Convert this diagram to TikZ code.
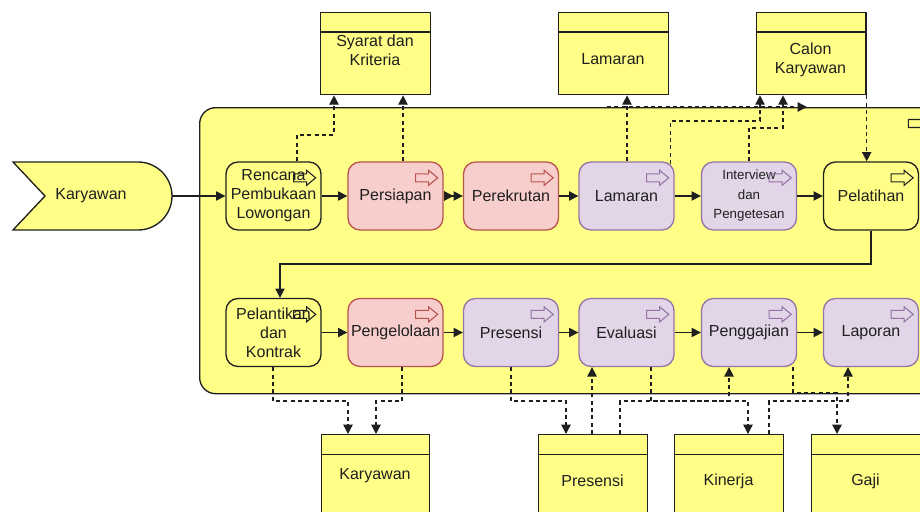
\documentclass[tikz,border=0pt]{standalone}
\usepackage{fontspec}
\setmainfont{Liberation Sans}
\usetikzlibrary{arrows.meta}

\definecolor{ylw}{HTML}{FFFF88}
\definecolor{redF}{HTML}{F8CECC}
\definecolor{redD}{HTML}{B85450}
\definecolor{purF}{HTML}{E1D5E7}
\definecolor{purD}{HTML}{9673A6}
\definecolor{ink}{HTML}{1F1F1F}

% small block-arrow marker in the top right corner of an activity
\newcommand{\flowicon}[2]{%
  \draw[#2, line width=0.8pt, shift={(#1.north east)}]
    (-28,12.5) -- (-15,12.5) -- (-15,9) -- (-6,16.5) -- (-15,24) -- (-15,20.5) -- (-28,20.5) -- cycle;}

\tikzset{
  proc/.style={draw, rounded corners=9pt, line width=1pt, minimum width=71.25pt,
    minimum height=51pt, inner sep=0pt, align=center},
  procY/.style={proc, fill=ylw, draw=ink},
  procR/.style={proc, fill=redF, draw=redD},
  procP/.style={proc, fill=purF, draw=purD},
  store/.style={draw=ink, fill=ylw, line width=1pt, inner sep=0pt, anchor=north west},
  label/.style={align=center, inner sep=0pt},
  flow/.style={draw=ink, line width=1pt, -{Triangle[length=7pt,width=7pt]}},
  dflow/.style={flow, dash pattern=on 3pt off 2.5pt},
}

\begin{document}
\begin{tikzpicture}[x=0.75pt, y=-0.75pt, font=\fontsize{12}{14.3}\selectfont, text=ink]
\useasboundingbox (0,0) rectangle (920,511);
\fill[white] (0,0) rectangle (920,511);
\clip (0,0) rectangle (920,511);

% process pool
\node[draw=ink, fill=ylw, line width=1pt, rounded corners=12pt, minimum width=552pt,
  minimum height=214.5pt, inner sep=0pt, anchor=north west] (pool) at (199,107) {};
\flowicon{pool}{ink}

% start event
\draw[draw=ink, fill=ylw, line width=1pt] (13,162) -- (138,162)
  arc[start angle=-90, end angle=90, radius=34] -- (13,230) -- (45,196) -- cycle;
\node[label] (evt) at (91,196) {Karyawan};
\coordinate (evtR) at (172,196);

% activities, first row
\node[procY] (renc) at (273.5,196) {Rencana\\Pembukaan\\Lowongan};
\node[procR] (pers) at (395.5,196) {Persiapan};
\node[procR] (rekr) at (511,196) {Perekrutan};
\node[procP] (lam) at (626.5,196) {Lamaran};
\node[procP, font=\fontsize{10}{14.6}\selectfont] (intv) at (749,196) {Interview\\dan\\Pengetesan};
\node[procY] (pelat) at (871,196) {Pelatihan};

% activities, second row
\node[procY] (pelant) at (273.5,332.5) {Pelantikan\\dan\\Kontrak};
\node[procR] (peng) at (395.5,332.5) {Pengelolaan};
\node[procP] (pres) at (511,332.5) {Presensi};
\node[procP] (eval) at (626.5,332.5) {Evaluasi};
\node[procP] (gaj) at (749,332.5) {Penggajian};
\node[procP] (lap) at (871,332.5) {Laporan};

\flowicon{renc}{ink}
\flowicon{pers}{redD}
\flowicon{rekr}{redD}
\flowicon{lam}{purD}
\flowicon{intv}{purD}
\flowicon{pelat}{ink}
\flowicon{pelant}{ink}
\flowicon{peng}{redD}
\flowicon{pres}{purD}
\flowicon{eval}{purD}
\flowicon{gaj}{purD}
\flowicon{lap}{purD}

% data stores, top
\node[store, minimum width=82.5pt, minimum height=61.5pt] (syar) at (320,12) {};
\node[store, minimum width=82.5pt, minimum height=61.5pt] (lams) at (558,12) {};
\node[store, minimum width=82pt, minimum height=61.5pt] (cal) at (756,12) {};
\foreach \s in {syar,lams,cal}
  \draw[ink, line width=1pt] ([yshift=-15pt]\s.north west) -- ([yshift=-15pt]\s.north east);
\node[label] (syarT) at (375,50) {Syarat dan\\Kriteria};
\node[label] (lamsT) at (613,59) {Lamaran};
\node[label] (calT) at (810.5,60) {Calon\\Karyawan};

% data stores, bottom
\node[store, minimum width=81pt, minimum height=79.5pt] (kar) at (321,434) {};
\node[store, minimum width=81.75pt, minimum height=79.5pt] (presS) at (538,434) {};
\node[store, minimum width=81.75pt, minimum height=79.5pt] (kin) at (674,434) {};
\node[store, minimum width=81.75pt, minimum height=79.5pt] (gaji) at (811,434) {};
\foreach \s in {kar,presS,kin,gaji}
  \draw[ink, line width=1pt] ([yshift=-15.5pt]\s.north west) -- ([yshift=-15.5pt]\s.north east);
\node[label] (karT) at (375,476) {Karyawan};
\node[label] (presT) at (592.5,481) {Presensi};
\node[label] (kinT) at (728.5,481) {Kinerja};
\node[label] (gajiT) at (865.5,481) {Gaji};

% sequence flow
\draw[flow] (evtR) -- (renc.west);
\draw[flow] (renc.east) -- (pers.west);
\draw[draw=ink, line width=1pt, -{Triangle[length=7pt,width=7pt]Triangle[length=7pt,width=7pt]}] (pers.east) -- (rekr.west);
\draw[flow] (rekr.east) -- (lam.west);
\draw[flow] (lam.east) -- (intv.west);
\draw[flow] (intv.east) -- (pelat.west);
\draw[flow] (pelat.south) |- (280,264) -- (280,0 |- pelant.north);
\draw[flow] (pelant.east) -- (peng.west);
\draw[flow] (peng.east) -- (pres.west);
\draw[flow] (pres.east) -- (eval.west);
\draw[flow] (eval.east) -- (gaj.west);
\draw[flow] (gaj.east) -- (lap.west);

% data associations, top
\draw[dflow] (297,0 |- renc.north) -- (297,135) -| (334,0 |- syar.south);
\draw[dflow] (403,0 |- pers.north) -- (403,0 |- syar.south);
\draw[dflow] (627,0 |- lam.north) -- (627,0 |- lams.south);
\draw[dflow] ([xshift=-3pt,yshift=-2pt]lam.north east) |- (760,121) -- (760,0 |- cal.south);
\draw[dflow] (749,0 |- intv.north) -- (749,128) -| (783,0 |- cal.south);
\draw[dflow] (cal.south east) -- (cal.south east |- pelat.north);
\coordinate (edgeA) at (607,107);
\coordinate (edgeB) at (807,107);
\draw[dflow] (edgeA) -- (edgeB);

% data associations, bottom
\draw[dflow] (273,0 |- pelant.south) -- (273,401) -| (348,0 |- kar.north);
\draw[dflow] (402,0 |- peng.south) -- (402,401) -| (376,0 |- kar.north);
\draw[dflow] (511,0 |- pres.south) -- (511,401) -| (566,0 |- presS.north);
\draw[dflow] (592,0 |- presS.north) -- (592,0 |- eval.south);
\draw[dflow] (651,0 |- eval.south) -- (651,401) -| (748,0 |- kin.north);
\draw[dflow] (620,0 |- presS.north) -- (620,401) -| (729,0 |- gaj.south);
\draw[dflow] (793,0 |- gaj.south) -- (793,393) -| (837,0 |- gaji.north);
\draw[dflow] (769,0 |- kin.north) -- (769,401) -| (848,0 |- lap.south);
\end{tikzpicture}
\end{document}
